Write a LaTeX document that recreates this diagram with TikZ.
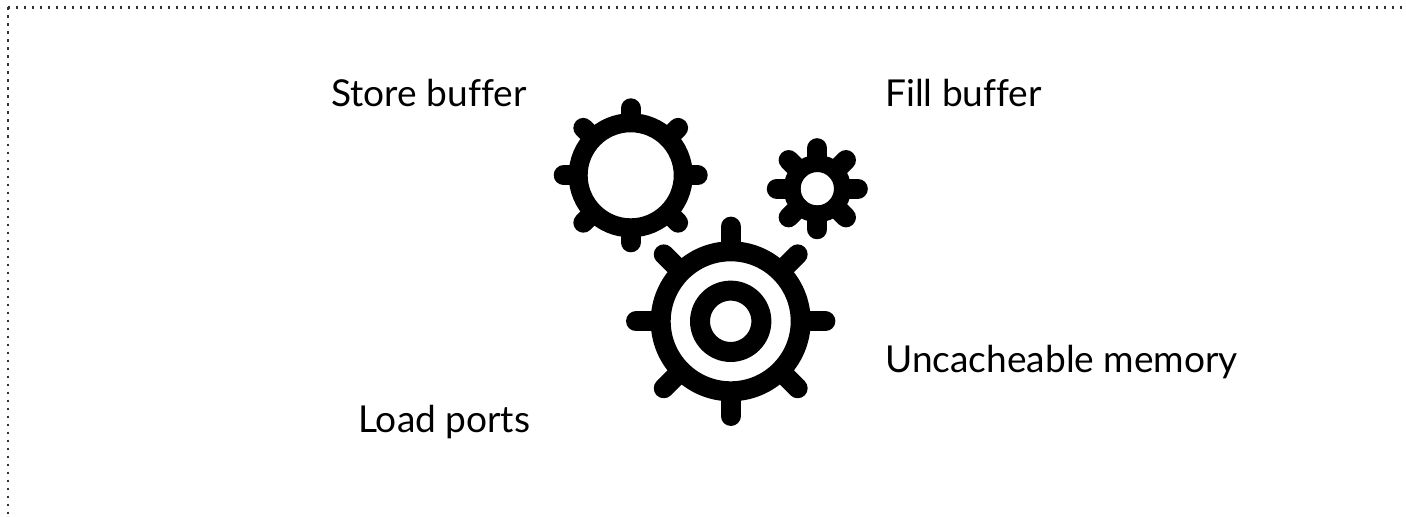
\documentclass[tikz,border=0pt]{standalone}
\usepackage{fontspec}
\setmainfont[Ligatures=NoCommon]{Lato}
\tikzset{
  label/.style={anchor=base west, inner sep=0pt, font=\fontsize{27.8}{32}\selectfont},
  frameline/.style={line width=1.6pt, black!80, dash pattern=on 1.6pt off 4.4pt},
  ring/.style={draw, line width=#1},
  tooth/.style={draw, line width=#1, line cap=round}
}
\begin{document}
\begin{tikzpicture}[x=0.75pt, y=-0.75pt]
    \useasboundingbox (0,0) rectangle (1406,517);
    % dotted frame, top and left only
    \coordinate (corner) at (8,7.5);
    \coordinate (topend) at (1402,7.5);
    \coordinate (leftend) at (8,517);
    \draw[frameline] (corner) -- (topend);
    \draw[frameline] (corner) -- (leftend);
    % small open gear
    \coordinate (gearA) at (630.7,175.3);
    \draw[ring=14.25pt] (gearA) circle[radius=39.4pt];
    \foreach \a in {0,45,...,315}
      \draw[tooth=15pt] (gearA) ++(\a:40pt) -- ++(\a:10.25pt);
    % smallest gear
    \coordinate (gearB) at (817.3,188.7);
    \draw[ring=12.75pt] (gearB) circle[radius=18.9pt];
    \foreach \a in {0,45,...,315}
      \draw[tooth=15pt] (gearB) ++(\a:20pt) -- ++(\a:10.4pt);
    % big gear
    \coordinate (gearC) at (730.7,321.3);
    \draw[ring=15pt] (gearC) circle[radius=52.5pt];
    \draw[ring=15pt] (gearC) circle[radius=23pt];
    \foreach \a in {0,45,...,315}
      \draw[tooth=15pt] (gearC) ++(\a:55pt) -- ++(\a:16pt);
    % labels
    \node[label] (store) at (331,106) {Store buffer};
    \node[label] (fill) at (885,106) {Fill buffer};
    \node[label] (uncache) at (885,372) {Uncacheable memory};
    \node[label] (load) at (358,432) {Load ports};
\end{tikzpicture}
\end{document}
